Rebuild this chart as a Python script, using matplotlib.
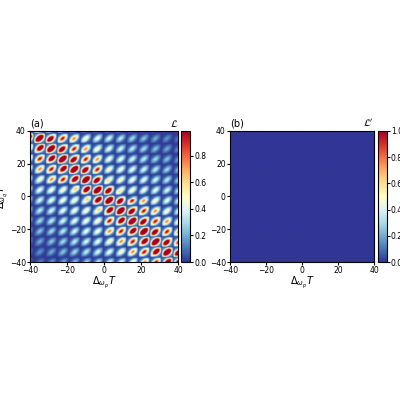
import numpy as np
import matplotlib
matplotlib.use("Agg")
import matplotlib.pyplot as plt

extent_lim = [-40, 40]
ticks = [-40, -20, 0, 20, 40]
diag_width = [11.0]
block_level = [0.85, 0.85]   # upper-left block, lower-right block
background_level = [0.42]

x = np.linspace(-40, 40, 700)
X, Y = np.meshgrid(x, x)
P = 2 * np.pi
a = (X + 0.3) % P - P / 2
b = (Y - 0.5) % P - P / 2
blob = np.exp(-((a + b) ** 2 / (2 * 2.8 ** 2) + (a - b) ** 2 / (2 * 1.5 ** 2)))
edge = np.exp(-(np.abs(a) - P / 2) ** 2 / 0.15) + np.exp(-(np.abs(b) - P / 2) ** 2 / 0.15)
d = X + Y
amp = background_level[0] * np.exp(-(d / 60) ** 2)
amp = np.maximum(amp, block_level[0] * ((X < 0) & (Y > 8)) * np.exp(-(d / 28) ** 2))
amp = np.maximum(amp, block_level[1] * ((X > 0) & (Y < -2)) * np.exp(-(d / 28) ** 2))
amp = np.maximum(amp, 1.4 * np.exp(-(d / diag_width[0]) ** 2))
L = np.clip(amp * blob * 1.35 + 0.08 * amp, 0, 0.99)
L = L * (1 - 0.7 * np.clip(edge, 0, 1))
Lp = np.zeros_like(L)

fig = plt.figure(figsize=(4, 4), dpi=100)
ax1 = fig.add_axes([0.075, 0.345, 0.37, 0.328])
cax1 = fig.add_axes([0.452, 0.345, 0.024, 0.328])
ax2 = fig.add_axes([0.575, 0.345, 0.36, 0.328])
cax2 = fig.add_axes([0.945, 0.345, 0.022, 0.328])

im1 = ax1.imshow(L, cmap="RdYlBu_r", origin="lower", extent=extent_lim + extent_lim,
                 vmin=0, vmax=0.99, aspect="auto", interpolation="bilinear")
im2 = ax2.imshow(Lp, cmap="RdYlBu_r", origin="lower", extent=extent_lim + extent_lim,
                 vmin=0, vmax=1.0, aspect="auto")
for ax, lab, cl in [(ax1, "(a)", r"$\mathcal{L}$"), (ax2, "(b)", r"$\mathcal{L}'$")]:
    ax.set_xticks(ticks)
    ax.set_yticks(ticks)
    ax.tick_params(labelsize=5.5, length=2, pad=1)
    ax.set_xlabel(r"$\Delta_{\omega_p}T$", fontsize=7, labelpad=0)
    ax.text(0.0, 1.03, lab, transform=ax.transAxes, fontsize=7)
    ax.text(1.0, 1.03, cl, transform=ax.transAxes, fontsize=7, ha="right")
ax1.set_ylabel(r"$\Delta_{\omega_q}T$", fontsize=7, labelpad=-1)
cb1 = fig.colorbar(im1, cax=cax1, ticks=[0, 0.2, 0.4, 0.6, 0.8])
cb2 = fig.colorbar(im2, cax=cax2, ticks=[0, 0.2, 0.4, 0.6, 0.8, 1.0])
for cb in (cb1, cb2):
    cb.ax.tick_params(labelsize=5.5, length=2, pad=1)
fig.savefig("out.png", dpi=100)
